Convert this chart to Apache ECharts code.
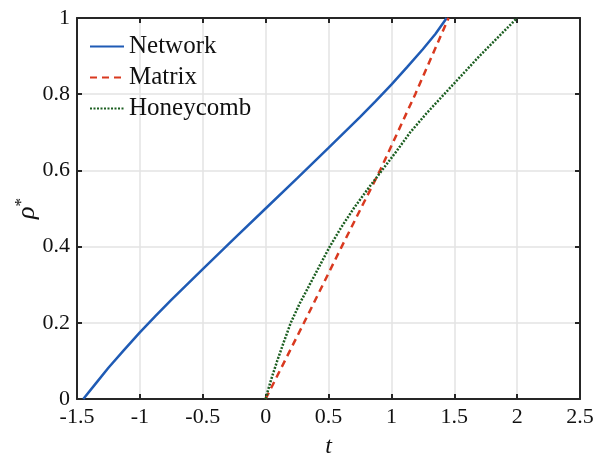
<!DOCTYPE html>
<html>
<head>
<meta charset="utf-8">
<script src="https://cdn.jsdelivr.net/npm/echarts@6/dist/echarts.min.js"></script>
<style>
html,body{margin:0;padding:0;background:#fff;}
#chart{width:616px;height:454px;}
</style>
</head>
<body>
<div id="chart"></div>
<script>
// ---- data ----
var seriesNames = ['Network', 'Matrix', 'Honeycomb'];
var networkT   = [-1.45, -1.35, -1.25, -1.125, -1, -0.875, -0.75, -0.5, -0.25, 0, 0.25, 0.5, 0.75, 0.875, 1, 1.125, 1.25, 1.35, 1.44];
var networkRho = [0, 0.041, 0.082, 0.129, 0.175, 0.218, 0.26, 0.341, 0.421, 0.5, 0.579, 0.659, 0.74, 0.782, 0.825, 0.871, 0.918, 0.958, 1];
var matrixT    = [0, 0.305, 0.605, 0.91, 1.19, 1.455];
var matrixRho  = [0, 0.2, 0.4, 0.6, 0.8, 1];
var honeyT     = [0, 0.021, 0.043, 0.092, 0.145, 0.2, 0.27, 0.35, 0.43, 0.51, 0.60, 0.70, 0.81, 0.925, 1.04, 1.15, 1.28, 1.42, 1.56, 1.70, 1.85, 2.0];
var honeyRho   = [0, 0.025, 0.05, 0.1, 0.15, 0.2, 0.25, 0.3, 0.35, 0.4, 0.45, 0.5, 0.55, 0.6, 0.65, 0.7, 0.75, 0.8, 0.85, 0.9, 0.95, 1];
var xTicks = {min: -1.5, max: 2.5, interval: 0.5};
var yTicks = {min: 0, max: 1, interval: 0.2};

function pairs(xs, ys) { return xs.map(function (x, i) { return [x, ys[i]]; }); }

var FONT = 'Liberation Serif';
var axisColor = '#262626';
var gridColor = '#e3e3e3';

var chart = echarts.init(document.getElementById('chart'), null, {renderer: 'canvas'});

function mkX(pos, main) {
  return {
    type: 'value', position: pos, min: xTicks.min, max: xTicks.max, interval: xTicks.interval,
    axisLine: {show: true, onZero: false, lineStyle: {color: axisColor, width: 2}},
    axisTick: {show: true, inside: true, length: 5, lineStyle: {color: axisColor, width: 2}},
    axisLabel: {show: main, color: '#111', fontFamily: FONT, fontSize: 22, margin: 7},
    splitLine: {show: main, lineStyle: {color: gridColor, width: 1.5}},
    name: main ? 't' : '', nameLocation: 'middle', nameGap: 36,
    nameTextStyle: {fontFamily: FONT, fontStyle: 'italic', fontSize: 24, color: '#111'}
  };
}
function mkY(pos, main) {
  return {
    type: 'value', position: pos, min: yTicks.min, max: yTicks.max, interval: yTicks.interval,
    axisLine: {show: true, onZero: false, lineStyle: {color: axisColor, width: 2}},
    axisTick: {show: true, inside: true, length: 5, lineStyle: {color: axisColor, width: 2}},
    axisLabel: {show: main, color: '#111', fontFamily: FONT, fontSize: 22, margin: 7},
    splitLine: {show: main, lineStyle: {color: gridColor, width: 1.5}},
    name: main ? '{r|ρ}{s|*}' : '', nameLocation: 'middle', nameGap: 35, nameRotate: 90,
    nameMoveOverlap: false,
    nameTextStyle: {
      color: '#111',
      rich: {
        r: {fontFamily: FONT, fontStyle: 'italic', fontSize: 26, color: '#111'},
        s: {fontFamily: FONT, fontSize: 17, color: '#111', verticalAlign: 'top', padding: [0, 0, 12, 0]}
      }
    }
  };
}

var lineCommon = {type: 'line', xAxisIndex: 0, yAxisIndex: 0, symbol: 'none', smooth: false};

var option = {
  backgroundColor: '#fff',
  animation: false,
  grid: {left: 77, right: 36, top: 18, bottom: 55, containLabel: false, outerBoundsMode: 'none'},
  xAxis: [mkX('bottom', true), mkX('top', false)],
  yAxis: [mkY('left', true), mkY('right', false)],
  legend: {
    orient: 'vertical', left: 84, top: 29, itemGap: 6,
    itemWidth: 34, itemHeight: 14,
    itemStyle: {opacity: 0},
    textStyle: {fontFamily: FONT, fontSize: 25, color: '#111', lineHeight: 23},
    data: seriesNames
  },
  series: [
    Object.assign({}, lineCommon, {name: seriesNames[0], data: pairs(networkT, networkRho),
      lineStyle: {color: '#1f5bb5', width: 2.5}, itemStyle: {color: '#1f5bb5'}}),
    Object.assign({}, lineCommon, {name: seriesNames[1], data: pairs(matrixT, matrixRho),
      lineStyle: {color: '#d9391f', width: 2.5, type: [7, 5]}, itemStyle: {color: '#d9391f'}}),
    Object.assign({}, lineCommon, {name: seriesNames[2], data: pairs(honeyT, honeyRho),
      lineStyle: {color: '#1b5e20', width: 2.5, type: [2, 1.5]}, itemStyle: {color: '#1b5e20'}})
  ]
};
chart.setOption(option);
</script>
</body>
</html>
